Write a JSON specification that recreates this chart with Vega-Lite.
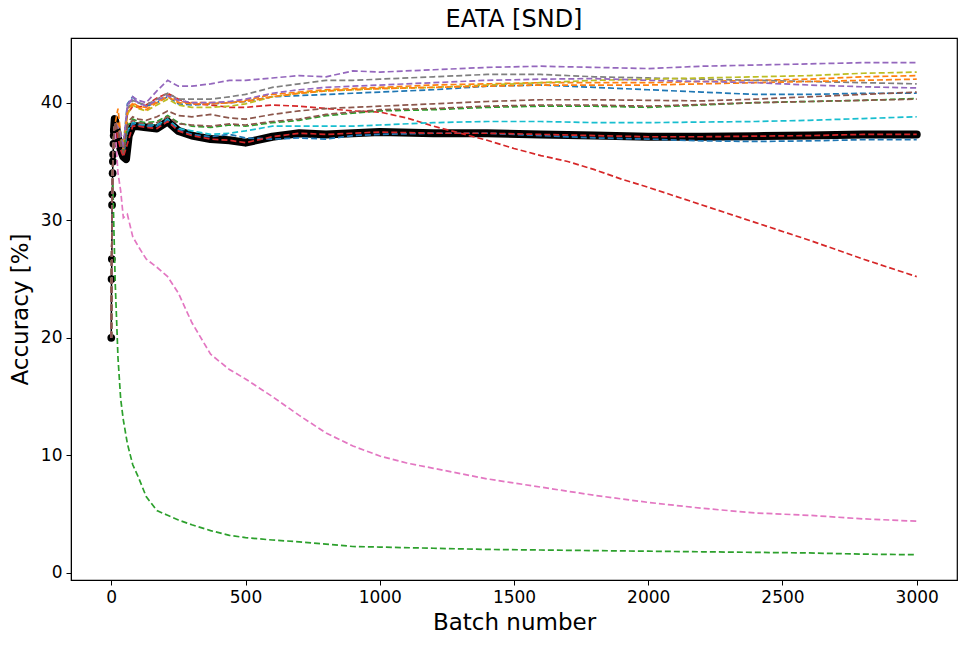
{
  "$schema": "https://vega.github.io/schema/vega-lite/v6.json",
  "width": 886,
  "height": 542,
  "autosize": {"type": "none"},
  "padding": {"left": 71, "top": 38, "right": 12, "bottom": 66},
  "background": "white",
  "title": {
    "text": "EATA [SND]",
    "font": "DejaVu Sans",
    "fontSize": 24,
    "fontWeight": "normal",
    "color": "black",
    "anchor": "middle",
    "offset": 6
  },
  "config": {
    "font": "DejaVu Sans",
    "view": {"stroke": "black", "strokeWidth": 1.2},
    "axis": {
      "grid": false,
      "labelFont": "DejaVu Sans",
      "titleFont": "DejaVu Sans",
      "labelFontSize": 17,
      "titleFontSize": 23,
      "titleFontWeight": "normal",
      "labelColor": "black",
      "titleColor": "black",
      "domainColor": "black",
      "tickColor": "black",
      "tickSize": 5,
      "labelPadding": 4,
      "labelFlush": false,
      "labelOverlap": false
    }
  },
  "data": {
    "values": [
      {"run":"run00","batch":0,"acc":20},{"run":"run00","batch":1,"acc":25},{"run":"run00","batch":2,"acc":26.7},{"run":"run00","batch":3,"acc":31.3},{"run":"run00","batch":4,"acc":32.2},{"run":"run00","batch":5,"acc":34},{"run":"run00","batch":6,"acc":35},{"run":"run00","batch":7,"acc":35.6},{"run":"run00","batch":8,"acc":36.5},{"run":"run00","batch":9,"acc":37.2},{"run":"run00","batch":10,"acc":37.6},{"run":"run00","batch":13,"acc":38.6},{"run":"run00","batch":15,"acc":38.4},{"run":"run00","batch":25,"acc":37.0},{"run":"run00","batch":35,"acc":36.0},{"run":"run00","batch":45,"acc":35.4},{"run":"run00","batch":55,"acc":35.2},{"run":"run00","batch":65,"acc":37.2},{"run":"run00","batch":80,"acc":38.0},{"run":"run00","batch":100,"acc":38.0},{"run":"run00","batch":130,"acc":37.9},{"run":"run00","batch":170,"acc":37.8},{"run":"run00","batch":210,"acc":38.4},{"run":"run00","batch":250,"acc":37.6},{"run":"run00","batch":300,"acc":37.2},{"run":"run00","batch":370,"acc":36.9},{"run":"run00","batch":440,"acc":36.8},{"run":"run00","batch":500,"acc":36.6},{"run":"run00","batch":600,"acc":37.1},{"run":"run00","batch":700,"acc":37.4},{"run":"run00","batch":800,"acc":37.3},{"run":"run00","batch":900,"acc":37.4},{"run":"run00","batch":1000,"acc":37.5},{"run":"run00","batch":1200,"acc":37.4},{"run":"run00","batch":1400,"acc":37.4},{"run":"run00","batch":1600,"acc":37.3},{"run":"run00","batch":1800,"acc":37.2},{"run":"run00","batch":2000,"acc":37.1},{"run":"run00","batch":2200,"acc":37.1},{"run":"run00","batch":2400,"acc":37.15},{"run":"run00","batch":2600,"acc":37.2},{"run":"run00","batch":2800,"acc":37.3},{"run":"run00","batch":3000,"acc":37.3},

      {"run":"run01","batch":0,"acc":20},{"run":"run01","batch":3,"acc":31.3},{"run":"run01","batch":6,"acc":35},{"run":"run01","batch":10,"acc":37.5},{"run":"run01","batch":15,"acc":38.3},{"run":"run01","batch":25,"acc":38.2},{"run":"run01","batch":35,"acc":37.5},{"run":"run01","batch":45,"acc":36.4},{"run":"run01","batch":60,"acc":39.9},{"run":"run01","batch":80,"acc":40.5},{"run":"run01","batch":100,"acc":40.0},{"run":"run01","batch":130,"acc":39.7},{"run":"run01","batch":170,"acc":40.0},{"run":"run01","batch":210,"acc":40.5},{"run":"run01","batch":250,"acc":39.9},{"run":"run01","batch":300,"acc":39.8},{"run":"run01","batch":370,"acc":39.9},{"run":"run01","batch":440,"acc":40.0},{"run":"run01","batch":500,"acc":40.1},{"run":"run01","batch":600,"acc":40.5},{"run":"run01","batch":700,"acc":40.6},{"run":"run01","batch":800,"acc":40.7},{"run":"run01","batch":900,"acc":40.8},{"run":"run01","batch":1000,"acc":40.9},{"run":"run01","batch":1200,"acc":41.1},{"run":"run01","batch":1400,"acc":41.4},{"run":"run01","batch":1600,"acc":41.5},{"run":"run01","batch":1800,"acc":41.3},{"run":"run01","batch":2000,"acc":41.1},{"run":"run01","batch":2200,"acc":40.9},{"run":"run01","batch":2400,"acc":40.7},{"run":"run01","batch":2600,"acc":40.7},{"run":"run01","batch":2800,"acc":40.8},{"run":"run01","batch":3000,"acc":40.8},

      {"run":"run02","batch":0,"acc":20},{"run":"run02","batch":3,"acc":31.3},{"run":"run02","batch":6,"acc":35},{"run":"run02","batch":10,"acc":37.5},{"run":"run02","batch":15,"acc":38.3},{"run":"run02","batch":25,"acc":39.5},{"run":"run02","batch":35,"acc":37.3},{"run":"run02","batch":45,"acc":36.3},{"run":"run02","batch":60,"acc":39.4},{"run":"run02","batch":80,"acc":40.0},{"run":"run02","batch":100,"acc":39.7},{"run":"run02","batch":130,"acc":39.6},{"run":"run02","batch":170,"acc":40.1},{"run":"run02","batch":210,"acc":40.7},{"run":"run02","batch":250,"acc":40.1},{"run":"run02","batch":300,"acc":40.0},{"run":"run02","batch":370,"acc":40.0},{"run":"run02","batch":440,"acc":40.0},{"run":"run02","batch":500,"acc":40.2},{"run":"run02","batch":600,"acc":40.7},{"run":"run02","batch":700,"acc":40.9},{"run":"run02","batch":800,"acc":41.1},{"run":"run02","batch":900,"acc":41.2},{"run":"run02","batch":1000,"acc":41.3},{"run":"run02","batch":1200,"acc":41.5},{"run":"run02","batch":1400,"acc":41.6},{"run":"run02","batch":1600,"acc":41.7},{"run":"run02","batch":1800,"acc":41.7},{"run":"run02","batch":2000,"acc":41.7},{"run":"run02","batch":2200,"acc":41.8},{"run":"run02","batch":2400,"acc":41.9},{"run":"run02","batch":2600,"acc":42.0},{"run":"run02","batch":2800,"acc":42.2},{"run":"run02","batch":3000,"acc":42.3},

      {"run":"run03","batch":0,"acc":20},{"run":"run03","batch":3,"acc":31.3},{"run":"run03","batch":6,"acc":33.0},{"run":"run03","batch":10,"acc":29.0},{"run":"run03","batch":15,"acc":24.5},{"run":"run03","batch":25,"acc":18.3},{"run":"run03","batch":35,"acc":14.8},{"run":"run03","batch":45,"acc":13.0},{"run":"run03","batch":60,"acc":11.0},{"run":"run03","batch":80,"acc":9.2},{"run":"run03","batch":100,"acc":8.2},{"run":"run03","batch":130,"acc":6.5},{"run":"run03","batch":170,"acc":5.3},{"run":"run03","batch":210,"acc":4.9},{"run":"run03","batch":250,"acc":4.5},{"run":"run03","batch":300,"acc":4.1},{"run":"run03","batch":370,"acc":3.6},{"run":"run03","batch":440,"acc":3.2},{"run":"run03","batch":500,"acc":3.0},{"run":"run03","batch":600,"acc":2.8},{"run":"run03","batch":700,"acc":2.65},{"run":"run03","batch":800,"acc":2.45},{"run":"run03","batch":900,"acc":2.25},{"run":"run03","batch":1000,"acc":2.2},{"run":"run03","batch":1200,"acc":2.1},{"run":"run03","batch":1400,"acc":2.0},{"run":"run03","batch":1600,"acc":1.95},{"run":"run03","batch":1800,"acc":1.9},{"run":"run03","batch":2000,"acc":1.85},{"run":"run03","batch":2200,"acc":1.8},{"run":"run03","batch":2400,"acc":1.75},{"run":"run03","batch":2600,"acc":1.7},{"run":"run03","batch":2800,"acc":1.6},{"run":"run03","batch":3000,"acc":1.55},

      {"run":"run04","batch":0,"acc":20},{"run":"run04","batch":3,"acc":31.3},{"run":"run04","batch":6,"acc":35},{"run":"run04","batch":10,"acc":37.5},{"run":"run04","batch":15,"acc":38.3},{"run":"run04","batch":25,"acc":38.0},{"run":"run04","batch":35,"acc":37.2},{"run":"run04","batch":45,"acc":36.2},{"run":"run04","batch":60,"acc":39.0},{"run":"run04","batch":80,"acc":39.7},{"run":"run04","batch":100,"acc":39.6},{"run":"run04","batch":130,"acc":39.8},{"run":"run04","batch":170,"acc":40.4},{"run":"run04","batch":210,"acc":40.8},{"run":"run04","batch":250,"acc":40.3},{"run":"run04","batch":300,"acc":39.9},{"run":"run04","batch":370,"acc":39.8},{"run":"run04","batch":440,"acc":39.6},{"run":"run04","batch":500,"acc":39.6},{"run":"run04","batch":600,"acc":39.8},{"run":"run04","batch":700,"acc":39.7},{"run":"run04","batch":800,"acc":39.5},{"run":"run04","batch":900,"acc":39.3},{"run":"run04","batch":1000,"acc":39.2},{"run":"run04","batch":1100,"acc":38.7},{"run":"run04","batch":1200,"acc":38.0},{"run":"run04","batch":1300,"acc":37.4},{"run":"run04","batch":1400,"acc":36.8},{"run":"run04","batch":1500,"acc":36.1},{"run":"run04","batch":1600,"acc":35.5},{"run":"run04","batch":1700,"acc":35.0},{"run":"run04","batch":1800,"acc":34.3},{"run":"run04","batch":1900,"acc":33.5},{"run":"run04","batch":2000,"acc":32.8},{"run":"run04","batch":2200,"acc":31.3},{"run":"run04","batch":2400,"acc":29.8},{"run":"run04","batch":2600,"acc":28.3},{"run":"run04","batch":2800,"acc":26.7},{"run":"run04","batch":3000,"acc":25.2},

      {"run":"run05","batch":0,"acc":20},{"run":"run05","batch":3,"acc":31.3},{"run":"run05","batch":6,"acc":35},{"run":"run05","batch":10,"acc":37.5},{"run":"run05","batch":15,"acc":38.3},{"run":"run05","batch":25,"acc":37.8},{"run":"run05","batch":35,"acc":37.0},{"run":"run05","batch":45,"acc":36.0},{"run":"run05","batch":60,"acc":39.8},{"run":"run05","batch":80,"acc":40.5},{"run":"run05","batch":100,"acc":40.2},{"run":"run05","batch":130,"acc":40.0},{"run":"run05","batch":170,"acc":41.0},{"run":"run05","batch":210,"acc":41.9},{"run":"run05","batch":250,"acc":41.4},{"run":"run05","batch":300,"acc":41.4},{"run":"run05","batch":370,"acc":41.6},{"run":"run05","batch":440,"acc":41.9},{"run":"run05","batch":500,"acc":41.9},{"run":"run05","batch":600,"acc":42.1},{"run":"run05","batch":700,"acc":42.3},{"run":"run05","batch":800,"acc":42.2},{"run":"run05","batch":900,"acc":42.7},{"run":"run05","batch":1000,"acc":42.6},{"run":"run05","batch":1200,"acc":42.8},{"run":"run05","batch":1400,"acc":43.0},{"run":"run05","batch":1600,"acc":43.1},{"run":"run05","batch":1800,"acc":43.0},{"run":"run05","batch":2000,"acc":42.9},{"run":"run05","batch":2200,"acc":43.1},{"run":"run05","batch":2400,"acc":43.2},{"run":"run05","batch":2600,"acc":43.3},{"run":"run05","batch":2800,"acc":43.4},{"run":"run05","batch":3000,"acc":43.4},

      {"run":"run06","batch":0,"acc":20},{"run":"run06","batch":3,"acc":31.3},{"run":"run06","batch":6,"acc":35},{"run":"run06","batch":10,"acc":37.5},{"run":"run06","batch":15,"acc":38.3},{"run":"run06","batch":25,"acc":37.5},{"run":"run06","batch":35,"acc":36.8},{"run":"run06","batch":45,"acc":35.8},{"run":"run06","batch":60,"acc":38.3},{"run":"run06","batch":80,"acc":38.8},{"run":"run06","batch":100,"acc":38.6},{"run":"run06","batch":130,"acc":38.5},{"run":"run06","batch":170,"acc":38.8},{"run":"run06","batch":210,"acc":39.3},{"run":"run06","batch":250,"acc":38.9},{"run":"run06","batch":300,"acc":38.8},{"run":"run06","batch":370,"acc":39.0},{"run":"run06","batch":440,"acc":38.7},{"run":"run06","batch":500,"acc":38.6},{"run":"run06","batch":600,"acc":39.0},{"run":"run06","batch":700,"acc":39.3},{"run":"run06","batch":800,"acc":39.5},{"run":"run06","batch":900,"acc":39.6},{"run":"run06","batch":1000,"acc":39.7},{"run":"run06","batch":1200,"acc":39.9},{"run":"run06","batch":1400,"acc":40.1},{"run":"run06","batch":1600,"acc":40.25},{"run":"run06","batch":1800,"acc":40.25},{"run":"run06","batch":2000,"acc":40.2},{"run":"run06","batch":2200,"acc":40.15},{"run":"run06","batch":2400,"acc":40.3},{"run":"run06","batch":2600,"acc":40.5},{"run":"run06","batch":2800,"acc":40.7},{"run":"run06","batch":3000,"acc":40.9},

      {"run":"run07","batch":0,"acc":20},{"run":"run07","batch":3,"acc":31.3},{"run":"run07","batch":6,"acc":35},{"run":"run07","batch":10,"acc":37},{"run":"run07","batch":15,"acc":37.5},{"run":"run07","batch":25,"acc":34.0},{"run":"run07","batch":35,"acc":32.5},{"run":"run07","batch":45,"acc":30.2},{"run":"run07","batch":60,"acc":30.5},{"run":"run07","batch":80,"acc":28.6},{"run":"run07","batch":100,"acc":27.8},{"run":"run07","batch":130,"acc":26.7},{"run":"run07","batch":170,"acc":26.0},{"run":"run07","batch":210,"acc":25.2},{"run":"run07","batch":250,"acc":23.8},{"run":"run07","batch":300,"acc":21.3},{"run":"run07","batch":370,"acc":18.6},{"run":"run07","batch":440,"acc":17.3},{"run":"run07","batch":500,"acc":16.5},{"run":"run07","batch":600,"acc":15.0},{"run":"run07","batch":700,"acc":13.4},{"run":"run07","batch":800,"acc":11.9},{"run":"run07","batch":900,"acc":10.8},{"run":"run07","batch":1000,"acc":9.95},{"run":"run07","batch":1100,"acc":9.35},{"run":"run07","batch":1200,"acc":8.9},{"run":"run07","batch":1400,"acc":8.0},{"run":"run07","batch":1600,"acc":7.3},{"run":"run07","batch":1800,"acc":6.6},{"run":"run07","batch":2000,"acc":6.0},{"run":"run07","batch":2200,"acc":5.5},{"run":"run07","batch":2400,"acc":5.1},{"run":"run07","batch":2600,"acc":4.9},{"run":"run07","batch":2800,"acc":4.6},{"run":"run07","batch":3000,"acc":4.4},

      {"run":"run08","batch":0,"acc":20},{"run":"run08","batch":3,"acc":31.3},{"run":"run08","batch":6,"acc":35},{"run":"run08","batch":10,"acc":37.5},{"run":"run08","batch":15,"acc":38.3},{"run":"run08","batch":25,"acc":38.0},{"run":"run08","batch":35,"acc":37.2},{"run":"run08","batch":45,"acc":36.2},{"run":"run08","batch":60,"acc":39.5},{"run":"run08","batch":80,"acc":40.2},{"run":"run08","batch":100,"acc":40.0},{"run":"run08","batch":130,"acc":39.8},{"run":"run08","batch":170,"acc":40.3},{"run":"run08","batch":210,"acc":40.8},{"run":"run08","batch":250,"acc":40.3},{"run":"run08","batch":300,"acc":40.3},{"run":"run08","batch":370,"acc":40.3},{"run":"run08","batch":440,"acc":40.5},{"run":"run08","batch":500,"acc":40.7},{"run":"run08","batch":600,"acc":41.3},{"run":"run08","batch":700,"acc":41.6},{"run":"run08","batch":800,"acc":41.9},{"run":"run08","batch":900,"acc":41.9},{"run":"run08","batch":1000,"acc":42.0},{"run":"run08","batch":1200,"acc":42.2},{"run":"run08","batch":1400,"acc":42.4},{"run":"run08","batch":1600,"acc":42.4},{"run":"run08","batch":1800,"acc":42.2},{"run":"run08","batch":2000,"acc":42.1},{"run":"run08","batch":2200,"acc":42.0},{"run":"run08","batch":2400,"acc":41.9},{"run":"run08","batch":2600,"acc":41.8},{"run":"run08","batch":2800,"acc":41.7},{"run":"run08","batch":3000,"acc":41.6},

      {"run":"run09","batch":0,"acc":20},{"run":"run09","batch":3,"acc":31.3},{"run":"run09","batch":6,"acc":35},{"run":"run09","batch":10,"acc":37.5},{"run":"run09","batch":15,"acc":38.3},{"run":"run09","batch":25,"acc":38.0},{"run":"run09","batch":35,"acc":37.1},{"run":"run09","batch":45,"acc":36.0},{"run":"run09","batch":60,"acc":39.0},{"run":"run09","batch":80,"acc":39.8},{"run":"run09","batch":100,"acc":39.5},{"run":"run09","batch":130,"acc":39.3},{"run":"run09","batch":170,"acc":39.8},{"run":"run09","batch":210,"acc":40.3},{"run":"run09","batch":250,"acc":39.8},{"run":"run09","batch":300,"acc":39.6},{"run":"run09","batch":370,"acc":39.6},{"run":"run09","batch":440,"acc":39.7},{"run":"run09","batch":500,"acc":39.9},{"run":"run09","batch":600,"acc":40.5},{"run":"run09","batch":700,"acc":40.8},{"run":"run09","batch":800,"acc":41.0},{"run":"run09","batch":900,"acc":41.1},{"run":"run09","batch":1000,"acc":41.2},{"run":"run09","batch":1200,"acc":41.3},{"run":"run09","batch":1400,"acc":41.5},{"run":"run09","batch":1600,"acc":41.7},{"run":"run09","batch":1800,"acc":41.9},{"run":"run09","batch":2000,"acc":42.0},{"run":"run09","batch":2200,"acc":42.1},{"run":"run09","batch":2400,"acc":42.2},{"run":"run09","batch":2600,"acc":42.3},{"run":"run09","batch":2800,"acc":42.5},{"run":"run09","batch":3000,"acc":42.6},

      {"run":"run10","batch":0,"acc":20},{"run":"run10","batch":3,"acc":31.3},{"run":"run10","batch":6,"acc":35},{"run":"run10","batch":10,"acc":37.5},{"run":"run10","batch":15,"acc":38.3},{"run":"run10","batch":25,"acc":37.5},{"run":"run10","batch":35,"acc":36.5},{"run":"run10","batch":45,"acc":35.6},{"run":"run10","batch":60,"acc":37.6},{"run":"run10","batch":80,"acc":38.3},{"run":"run10","batch":100,"acc":38.2},{"run":"run10","batch":130,"acc":38.1},{"run":"run10","batch":170,"acc":38.1},{"run":"run10","batch":210,"acc":38.6},{"run":"run10","batch":250,"acc":37.8},{"run":"run10","batch":300,"acc":37.6},{"run":"run10","batch":370,"acc":37.3},{"run":"run10","batch":440,"acc":37.4},{"run":"run10","batch":500,"acc":37.6},{"run":"run10","batch":600,"acc":38.0},{"run":"run10","batch":700,"acc":38.0},{"run":"run10","batch":800,"acc":38.0},{"run":"run10","batch":900,"acc":38.0},{"run":"run10","batch":1000,"acc":38.1},{"run":"run10","batch":1200,"acc":38.3},{"run":"run10","batch":1400,"acc":38.4},{"run":"run10","batch":1600,"acc":38.4},{"run":"run10","batch":1800,"acc":38.3},{"run":"run10","batch":2000,"acc":38.3},{"run":"run10","batch":2200,"acc":38.35},{"run":"run10","batch":2400,"acc":38.4},{"run":"run10","batch":2600,"acc":38.5},{"run":"run10","batch":2800,"acc":38.65},{"run":"run10","batch":3000,"acc":38.8},

      {"run":"run11","batch":0,"acc":20},{"run":"run11","batch":3,"acc":31.3},{"run":"run11","batch":6,"acc":35},{"run":"run11","batch":10,"acc":37.5},{"run":"run11","batch":15,"acc":38.3},{"run":"run11","batch":25,"acc":37.4},{"run":"run11","batch":35,"acc":36.4},{"run":"run11","batch":45,"acc":35.5},{"run":"run11","batch":60,"acc":37.5},{"run":"run11","batch":80,"acc":38.2},{"run":"run11","batch":100,"acc":38.1},{"run":"run11","batch":130,"acc":38.0},{"run":"run11","batch":170,"acc":38.0},{"run":"run11","batch":210,"acc":38.5},{"run":"run11","batch":250,"acc":37.7},{"run":"run11","batch":300,"acc":37.3},{"run":"run11","batch":370,"acc":37.1},{"run":"run11","batch":440,"acc":37.3},{"run":"run11","batch":500,"acc":37.0},{"run":"run11","batch":600,"acc":36.9},{"run":"run11","batch":700,"acc":37.0},{"run":"run11","batch":800,"acc":36.9},{"run":"run11","batch":900,"acc":37.2},{"run":"run11","batch":1000,"acc":37.3},{"run":"run11","batch":1200,"acc":37.4},{"run":"run11","batch":1400,"acc":37.4},{"run":"run11","batch":1600,"acc":37.2},{"run":"run11","batch":1800,"acc":37.0},{"run":"run11","batch":2000,"acc":36.9},{"run":"run11","batch":2200,"acc":36.75},{"run":"run11","batch":2400,"acc":36.7},{"run":"run11","batch":2600,"acc":36.75},{"run":"run11","batch":2800,"acc":36.85},{"run":"run11","batch":3000,"acc":36.85},

      {"run":"run12","batch":0,"acc":20},{"run":"run12","batch":3,"acc":31.3},{"run":"run12","batch":6,"acc":35},{"run":"run12","batch":10,"acc":37.5},{"run":"run12","batch":15,"acc":38.3},{"run":"run12","batch":25,"acc":38.2},{"run":"run12","batch":35,"acc":37.0},{"run":"run12","batch":45,"acc":36.0},{"run":"run12","batch":60,"acc":39.2},{"run":"run12","batch":80,"acc":39.9},{"run":"run12","batch":100,"acc":39.6},{"run":"run12","batch":130,"acc":39.4},{"run":"run12","batch":170,"acc":40.0},{"run":"run12","batch":210,"acc":40.5},{"run":"run12","batch":250,"acc":40.0},{"run":"run12","batch":300,"acc":39.9},{"run":"run12","batch":370,"acc":39.9},{"run":"run12","batch":440,"acc":40.0},{"run":"run12","batch":500,"acc":40.1},{"run":"run12","batch":600,"acc":40.5},{"run":"run12","batch":700,"acc":40.8},{"run":"run12","batch":800,"acc":41.0},{"run":"run12","batch":900,"acc":41.1},{"run":"run12","batch":1000,"acc":41.2},{"run":"run12","batch":1200,"acc":41.3},{"run":"run12","batch":1400,"acc":41.4},{"run":"run12","batch":1600,"acc":41.5},{"run":"run12","batch":1800,"acc":41.5},{"run":"run12","batch":2000,"acc":41.5},{"run":"run12","batch":2200,"acc":41.6},{"run":"run12","batch":2400,"acc":41.7},{"run":"run12","batch":2600,"acc":41.8},{"run":"run12","batch":2800,"acc":41.9},{"run":"run12","batch":3000,"acc":42.0},

      {"run":"run13","batch":0,"acc":20},{"run":"run13","batch":3,"acc":31.3},{"run":"run13","batch":6,"acc":35},{"run":"run13","batch":10,"acc":37.5},{"run":"run13","batch":15,"acc":38.3},{"run":"run13","batch":25,"acc":37.6},{"run":"run13","batch":35,"acc":36.8},{"run":"run13","batch":45,"acc":35.8},{"run":"run13","batch":60,"acc":38.0},{"run":"run13","batch":80,"acc":38.6},{"run":"run13","batch":100,"acc":38.4},{"run":"run13","batch":130,"acc":38.3},{"run":"run13","batch":170,"acc":38.4},{"run":"run13","batch":210,"acc":38.9},{"run":"run13","batch":250,"acc":38.3},{"run":"run13","batch":300,"acc":38.0},{"run":"run13","batch":370,"acc":37.9},{"run":"run13","batch":440,"acc":38.1},{"run":"run13","batch":500,"acc":38.0},{"run":"run13","batch":600,"acc":38.3},{"run":"run13","batch":700,"acc":38.5},{"run":"run13","batch":800,"acc":38.9},{"run":"run13","batch":900,"acc":39.1},{"run":"run13","batch":1000,"acc":39.3},{"run":"run13","batch":1200,"acc":39.4},{"run":"run13","batch":1400,"acc":39.6},{"run":"run13","batch":1600,"acc":39.7},{"run":"run13","batch":1800,"acc":39.7},{"run":"run13","batch":2000,"acc":39.6},{"run":"run13","batch":2200,"acc":39.8},{"run":"run13","batch":2400,"acc":40.0},{"run":"run13","batch":2600,"acc":40.1},{"run":"run13","batch":2800,"acc":40.2},{"run":"run13","batch":3000,"acc":40.35},

      {"run":"run14","batch":0,"acc":20},{"run":"run14","batch":3,"acc":31.3},{"run":"run14","batch":6,"acc":35},{"run":"run14","batch":10,"acc":37.5},{"run":"run14","batch":15,"acc":38.3},{"run":"run14","batch":25,"acc":37.0},{"run":"run14","batch":35,"acc":36.0},{"run":"run14","batch":45,"acc":35.4},{"run":"run14","batch":60,"acc":36.5},{"run":"run14","batch":80,"acc":38.0},{"run":"run14","batch":100,"acc":38.0},{"run":"run14","batch":130,"acc":37.9},{"run":"run14","batch":170,"acc":37.8},{"run":"run14","batch":210,"acc":38.4},{"run":"run14","batch":250,"acc":37.6},{"run":"run14","batch":300,"acc":37.2},{"run":"run14","batch":370,"acc":36.9},{"run":"run14","batch":440,"acc":36.8},{"run":"run14","batch":500,"acc":36.6},{"run":"run14","batch":600,"acc":37.1},{"run":"run14","batch":700,"acc":37.4},{"run":"run14","batch":800,"acc":37.3},{"run":"run14","batch":900,"acc":37.4},{"run":"run14","batch":1000,"acc":37.5},{"run":"run14","batch":1200,"acc":37.4},{"run":"run14","batch":1400,"acc":37.4},{"run":"run14","batch":1600,"acc":37.3},{"run":"run14","batch":1800,"acc":37.2},{"run":"run14","batch":2000,"acc":37.1},{"run":"run14","batch":2200,"acc":37.1},{"run":"run14","batch":2400,"acc":37.15},{"run":"run14","batch":2600,"acc":37.2},{"run":"run14","batch":2800,"acc":37.3},{"run":"run14","batch":3000,"acc":37.3},

      {"run":"run15","batch":0,"acc":20},{"run":"run15","batch":3,"acc":31.3},{"run":"run15","batch":6,"acc":35},{"run":"run15","batch":10,"acc":37.5},{"run":"run15","batch":15,"acc":38.3},{"run":"run15","batch":25,"acc":37.9},{"run":"run15","batch":35,"acc":37.3},{"run":"run15","batch":45,"acc":36.1},{"run":"run15","batch":60,"acc":39.7},{"run":"run15","batch":80,"acc":40.4},{"run":"run15","batch":100,"acc":40.0},{"run":"run15","batch":130,"acc":39.7},{"run":"run15","batch":170,"acc":40.2},{"run":"run15","batch":210,"acc":40.6},{"run":"run15","batch":250,"acc":40.2},{"run":"run15","batch":300,"acc":40.0},{"run":"run15","batch":370,"acc":40.0},{"run":"run15","batch":440,"acc":40.1},{"run":"run15","batch":500,"acc":40.3},{"run":"run15","batch":600,"acc":40.8},{"run":"run15","batch":700,"acc":41.1},{"run":"run15","batch":800,"acc":41.3},{"run":"run15","batch":900,"acc":41.4},{"run":"run15","batch":1000,"acc":41.5},{"run":"run15","batch":1200,"acc":41.7},{"run":"run15","batch":1400,"acc":41.9},{"run":"run15","batch":1600,"acc":42.0},{"run":"run15","batch":1800,"acc":42.05},{"run":"run15","batch":2000,"acc":41.9},{"run":"run15","batch":2200,"acc":41.8},{"run":"run15","batch":2400,"acc":41.7},{"run":"run15","batch":2600,"acc":41.5},{"run":"run15","batch":2800,"acc":41.35},{"run":"run15","batch":3000,"acc":41.25},

      {"run":"run16","batch":0,"acc":20},{"run":"run16","batch":3,"acc":31.3},{"run":"run16","batch":6,"acc":35},{"run":"run16","batch":10,"acc":37.5},{"run":"run16","batch":15,"acc":38.3},{"run":"run16","batch":25,"acc":37.5},{"run":"run16","batch":35,"acc":36.7},{"run":"run16","batch":45,"acc":35.7},{"run":"run16","batch":60,"acc":38.0},{"run":"run16","batch":80,"acc":38.5},{"run":"run16","batch":100,"acc":38.3},{"run":"run16","batch":130,"acc":38.2},{"run":"run16","batch":170,"acc":38.3},{"run":"run16","batch":210,"acc":38.8},{"run":"run16","batch":250,"acc":38.2},{"run":"run16","batch":300,"acc":38.1},{"run":"run16","batch":370,"acc":38.0},{"run":"run16","batch":440,"acc":38.2},{"run":"run16","batch":500,"acc":38.1},{"run":"run16","batch":600,"acc":38.4},{"run":"run16","batch":700,"acc":38.6},{"run":"run16","batch":800,"acc":39.0},{"run":"run16","batch":900,"acc":39.2},{"run":"run16","batch":1000,"acc":39.4},{"run":"run16","batch":1200,"acc":39.5},{"run":"run16","batch":1400,"acc":39.7},{"run":"run16","batch":1600,"acc":39.8},{"run":"run16","batch":1800,"acc":39.8},{"run":"run16","batch":2000,"acc":39.7},{"run":"run16","batch":2200,"acc":39.85},{"run":"run16","batch":2400,"acc":40.0},{"run":"run16","batch":2600,"acc":40.1},{"run":"run16","batch":2800,"acc":40.2},{"run":"run16","batch":3000,"acc":40.3}
    ]
  },
  "encoding": {
    "x": {
      "field": "batch",
      "type": "quantitative",
      "scale": {"domain": [-150, 3150], "nice": false, "zero": false},
      "axis": {"title": "Batch number", "format": "d", "values": [0, 500, 1000, 1500, 2000, 2500, 3000], "titlePadding": 6}
    },
    "y": {
      "field": "acc",
      "type": "quantitative",
      "scale": {"domain": [-0.6, 45.5], "nice": false, "zero": false},
      "axis": {"title": "Accuracy [%]", "format": "d", "values": [0, 10, 20, 30, 40], "titlePadding": 8}
    }
  },
  "layer": [
    {
      "transform": [{"filter": "datum.run == 'run00'"}],
      "mark": {"type": "line", "color": "black", "strokeWidth": 1.5},
      "encoding": {}
    },
    {
      "transform": [{"filter": "datum.run == 'run00' && datum.batch >= 10"}],
      "mark": {"type": "line", "color": "black", "strokeWidth": 8, "strokeCap": "round", "strokeJoin": "round"},
      "encoding": {}
    },
    {
      "transform": [{"filter": "datum.run == 'run00' && datum.batch <= 10"}],
      "mark": {"type": "point", "filled": true, "color": "black", "size": 60, "opacity": 1},
      "encoding": {}
    },
    {
      "transform": [{"filter": "datum.run != 'run00'"}],
      "mark": {"type": "line", "strokeWidth": 1.7, "strokeDash": [6, 3]},
      "encoding": {
        "color": {
          "field": "run",
          "type": "nominal",
          "legend": null,
          "scale": {
            "domain": ["run01","run02","run03","run04","run05","run06","run07","run08","run09","run10","run11","run12","run13","run14","run15","run16"],
            "range": ["#1f77b4","#ff7f0e","#2ca02c","#d62728","#9467bd","#8c564b","#e377c2","#7f7f7f","#bcbd22","#17becf","#1f77b4","#ff7f0e","#2ca02c","#d62728","#9467bd","#8c564b"]
          }
        }
      }
    }
  ]
}
